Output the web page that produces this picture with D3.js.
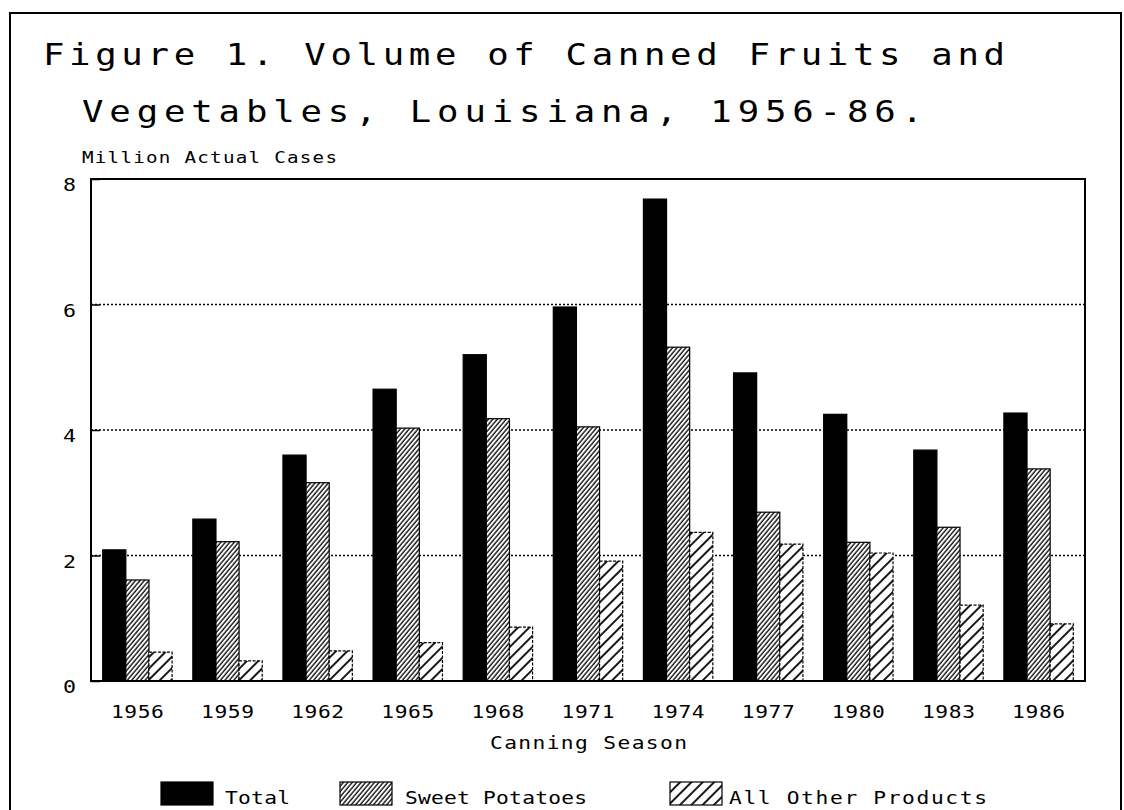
<!DOCTYPE html>
<html>
<head>
<meta charset="utf-8">
<script src="https://cdn.jsdelivr.net/npm/d3@7"></script>
<style>
  html, body { margin: 0; padding: 0; background: #fff; }
  svg { display: block; }
</style>
</head>
<body>
<svg id="chart" width="1124" height="810"></svg>
<script>
const years = ["1956","1959","1962","1965","1968","1971","1974","1977","1980","1983","1986"];
const seriesNames = ["Total","Sweet Potatoes","All Other Products"];
const totalValues = [2.09, 2.58, 3.60, 4.65, 5.20, 5.96, 7.68, 4.91, 4.25, 3.68, 4.27];
const sweetPotatoValues = [1.61, 2.22, 3.16, 4.03, 4.18, 4.05, 5.32, 2.69, 2.21, 2.45, 3.38];
const otherValues = [0.46, 0.32, 0.48, 0.61, 0.86, 1.91, 2.37, 2.18, 2.04, 1.21, 0.91];
const yTicks = [0, 2, 4, 6, 8];
const gridValues = [2, 4, 6];
const titleLines = ["Figure 1. Volume of Canned Fruits and", "Vegetables, Louisiana, 1956-86."];
const yAxisTitle = "Million Actual Cases";
const xAxisTitle = "Canning Season";

const seriesValues = [totalValues, sweetPotatoValues, otherValues];

const svg = d3.select("#chart");
const monoFont = "'DejaVu Sans Mono', 'Liberation Mono', monospace";

// helper: stretched monospace text spanning [x, x+width]
function wideText(parent, txt, x, yPos, width, size, sx, anchor) {
  const g = parent.append("g").attr("transform", `translate(${x},${yPos}) scale(${sx},1)`);
  const t = g.append("text").attr("x", 0).attr("y", 0)
    .attr("font-family", monoFont).attr("font-size", size).attr("fill", "#000")
    .attr("text-anchor", anchor || "start")
    .text(txt);
  if (width) t.attr("textLength", width / sx).attr("lengthAdjust", "spacing");
  return t;
}

// patterns
const defs = svg.append("defs");
const pSweet = defs.append("pattern").attr("id", "hatchSweet")
  .attr("patternUnits", "userSpaceOnUse").attr("width", 3.4).attr("height", 10)
  .attr("patternTransform", "rotate(40)");
pSweet.append("rect").attr("width", 3.4).attr("height", 10).attr("fill", "#fff");
pSweet.append("line").attr("x1", 1).attr("x2", 1).attr("y1", 0).attr("y2", 10)
  .attr("stroke", "#000").attr("stroke-width", 1.3);

const pOther = defs.append("pattern").attr("id", "hatchOther")
  .attr("patternUnits", "userSpaceOnUse").attr("width", 8).attr("height", 10)
  .attr("patternTransform", "rotate(45)");
pOther.append("rect").attr("width", 8).attr("height", 10).attr("fill", "#fff");
pOther.append("line").attr("x1", 2).attr("x2", 2).attr("y1", 0).attr("y2", 10)
  .attr("stroke", "#000").attr("stroke-width", 1.8);

const fills = ["#000", "url(#hatchSweet)", "url(#hatchOther)"];
const dashes = [null, null, "3,1.5"];

// outer frame
svg.append("path")
  .attr("d", "M10,812 L10,13 L1121,13 L1121,812")
  .attr("fill", "none").attr("stroke", "#000").attr("stroke-width", 2);

// title
const titleX = [[43, 1005], [82, 923]];
const titleY = [65, 122];
titleLines.forEach((t, i) => {
  wideText(svg, t, titleX[i][0], titleY[i], titleX[i][1] - titleX[i][0], 31, 1.15);
});

// scales
const plotLeft = 91, plotRight = 1085, plotTop = 179, plotBottom = 681;
const x0 = d3.scaleBand().domain(years).range([plotLeft, plotRight]).paddingInner(0.23).paddingOuter(0.13);
const x1 = d3.scaleBand().domain(seriesNames).range([0, x0.bandwidth()]);
const y = d3.scaleLinear().domain([0, 8]).range([plotBottom, plotTop]);

// grid lines
svg.append("g").selectAll("line").data(gridValues).join("line")
  .attr("x1", plotLeft).attr("x2", plotRight)
  .attr("y1", d => y(d)).attr("y2", d => y(d))
  .attr("stroke", "#000").attr("stroke-width", 1.3).attr("stroke-dasharray", "2,2");

// bars
const gBars = svg.append("g");
seriesNames.forEach((s, si) => {
  gBars.append("g").selectAll("rect").data(years).join("rect")
    .attr("x", d => x0(d) + x1(s))
    .attr("y", (d, i) => y(seriesValues[si][i]))
    .attr("width", x1.bandwidth())
    .attr("height", (d, i) => plotBottom - y(seriesValues[si][i]))
    .attr("fill", fills[si])
    .attr("stroke", "#000").attr("stroke-width", 1.2)
    .attr("stroke-dasharray", dashes[si]);
});

// plot border
svg.append("rect").attr("x", plotLeft).attr("y", plotTop)
  .attr("width", plotRight - plotLeft).attr("height", plotBottom - plotTop)
  .attr("fill", "none").attr("stroke", "#000").attr("stroke-width", 2);

// y axis (ticks from d3 axis, labels stretched)
const yAxis = d3.axisLeft(y).tickValues(yTicks).tickSize(-9).tickFormat("");
const gy = svg.append("g").attr("transform", `translate(${plotLeft},0)`).call(yAxis);
gy.select(".domain").remove();
gy.selectAll(".tick line").attr("stroke", "#000").attr("stroke-width", 1.5);
yTicks.forEach(v => {
  wideText(svg, String(v), 76, y(v) + 12, null, 18, 1.2, "end");
});

// x axis labels
const xAxis = d3.axisBottom(x0).tickSize(0).tickFormat("");
const gx = svg.append("g").attr("transform", `translate(0,${plotBottom})`).call(xAxis);
gx.select(".domain").remove();
years.forEach(yr => {
  const cx = x0(yr) + x0.bandwidth() / 2;
  wideText(svg, yr, cx - 26.5, 718, 53, 17, 1.25);
});

// axis titles
wideText(svg, yAxisTitle, 82, 163, 255, 16, 1.2);
wideText(svg, xAxisTitle, 490, 749, 197, 17, 1.25);

// legend
const legendBoxX = [161, 340, 670];
const legendTextX = [[225, 290], [405, 587], [729, 987]];
const legend = svg.append("g");
seriesNames.forEach((s, i) => {
  legend.append("rect").attr("x", legendBoxX[i]).attr("y", 782)
    .attr("width", 52).attr("height", 23)
    .attr("fill", fills[i]).attr("stroke", "#000").attr("stroke-width", 1.2);
  wideText(legend, s, legendTextX[i][0], 804, legendTextX[i][1] - legendTextX[i][0], 17, 1.25);
});
</script>
</body>
</html>
